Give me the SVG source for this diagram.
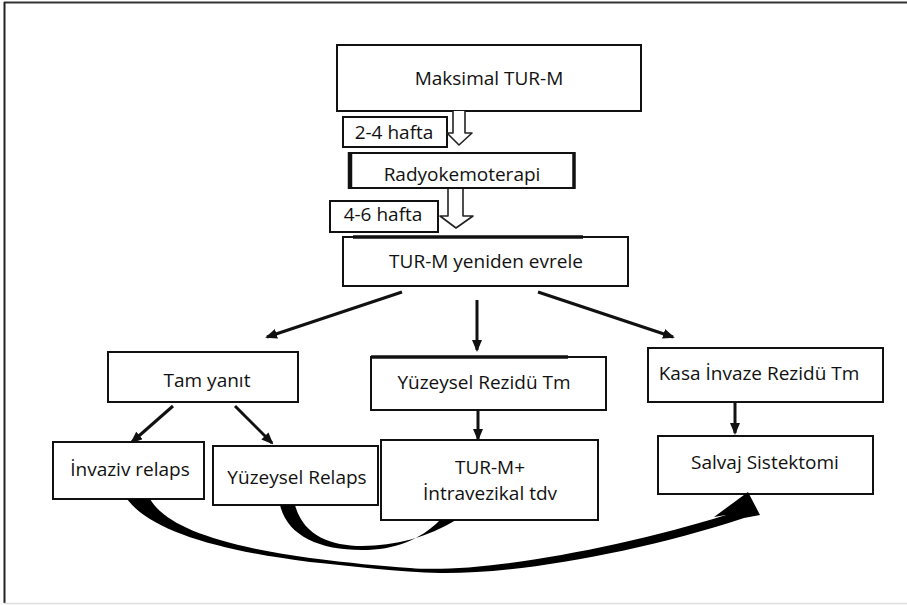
<svg xmlns="http://www.w3.org/2000/svg" width="907" height="605" viewBox="0 0 907 605">
<defs>
<style>
.box{fill:#fff;stroke:#111;stroke-width:2}
.t{font-family:"Open Sans","Noto Sans","Liberation Sans",sans-serif;font-size:19px;fill:#111;text-anchor:middle}
.ln{stroke:#111;stroke-width:3;fill:none}
.hollow{fill:#fff;stroke:#222;stroke-width:1.6;stroke-linejoin:round}
.band{fill:#000}
</style>
<marker id="ah" viewBox="0 0 12 10" refX="10" refY="5" markerWidth="12" markerHeight="10" markerUnits="userSpaceOnUse" orient="auto">
<path d="M0,0 L12,5 L0,10 z" fill="#111"/>
</marker>
</defs>
<rect width="907" height="605" fill="#fff"/>
<g id="frame">
<line x1="4" y1="2.5" x2="907" y2="2.5" stroke="#333" stroke-width="2"/>
<line x1="4.5" y1="2" x2="4.5" y2="603" stroke="#222" stroke-width="2"/>
<line x1="4" y1="603.5" x2="907" y2="603.5" stroke="#ddd" stroke-width="1.5"/>
</g>
<g id="n1"><rect class="box" x="337" y="45" width="304" height="66"/><text class="t" x="489" y="85">Maksimal TUR-M</text></g>
<g id="l1"><rect class="box" x="343" y="117" width="104" height="30"/><text class="t" x="394" y="139">2-4 hafta</text></g>
<g id="n2"><rect class="box" x="349" y="153" width="225" height="35"/><line x1="350" y1="152" x2="350" y2="189" stroke="#111" stroke-width="4.5"/><line x1="574" y1="152" x2="574" y2="189" stroke="#111" stroke-width="3.5"/><text class="t" x="462" y="181">Radyokemoterapi</text></g>
<g id="l2"><rect class="box" x="330" y="201" width="108" height="31"/><text class="t" x="383" y="221">4-6 hafta</text></g>
<g id="n3"><rect class="box" x="343" y="237" width="285" height="49"/><line x1="353" y1="237" x2="583" y2="237" stroke="#111" stroke-width="3.5"/><text class="t" x="486" y="268">TUR-M yeniden evrele</text></g>
<g id="n4"><rect class="box" x="108" y="352" width="190" height="50"/><text class="t" x="207" y="387">Tam yanıt</text></g>
<g id="n5"><rect class="box" x="371" y="357" width="235" height="53"/><line x1="371" y1="357" x2="568" y2="357" stroke="#111" stroke-width="3.5"/><text class="t" x="484" y="389">Yüzeysel Rezidü Tm</text></g>
<g id="n6"><rect class="box" x="648" y="348" width="235" height="54"/><text class="t" x="759" y="380">Kasa İnvaze Rezidü Tm</text></g>
<g id="n7"><rect class="box" x="53" y="442" width="151" height="57"/><text class="t" x="130" y="476">İnvaziv relaps</text></g>
<g id="n8"><rect class="box" x="213" y="446" width="165" height="59"/><text class="t" x="297" y="484">Yüzeysel Relaps</text></g>
<g id="n9"><rect class="box" x="381" y="440" width="217" height="80"/><text class="t" x="490" y="474">TUR-M+</text><text class="t" x="490" y="500">İntravezikal tdv</text></g>
<g id="n10"><rect class="box" x="658" y="436" width="215" height="58"/><text class="t" x="765" y="469">Salvaj Sistektomi</text></g>
<g id="connectors">
<path class="hollow" d="M453,111 L453,133 L447,133 L459,145 L472,133 L465,133 L465,111"/>
<path class="hollow" d="M448,189 L448,216 L440,216 L456,228 L473,216 L463,216 L463,189"/>
<line class="ln" x1="402" y1="292" x2="267" y2="337" marker-end="url(#ah)"/>
<line class="ln" x1="477" y1="300" x2="477" y2="350" marker-end="url(#ah)"/>
<line class="ln" x1="538" y1="292" x2="673" y2="337" marker-end="url(#ah)"/>
<line class="ln" x1="173" y1="406" x2="132" y2="442" marker-end="url(#ah)"/>
<line class="ln" x1="235" y1="406" x2="272" y2="443" marker-end="url(#ah)"/>
<line class="ln" x1="478" y1="410" x2="478" y2="439" marker-end="url(#ah)"/>
<line class="ln" x1="735" y1="402" x2="735" y2="433" marker-end="url(#ah)"/>
<path class="band" d="M150,499 C165,525 215,545 310,558 C350,563 380,566 410,568 C480,574 620,548 726,515 L714,517 L748,492 L760,515 L744,518 C640,552 520,574 440,573 C400,572 350,566 310,562 C215,550 150,530 127,499 Z"/>
<path class="band" d="M295,505 C303,535 330,546 362,546 C395,546 428,537 456,520 L440,520 C420,540 395,550 362,550 C318,550 287,535 280,505 Z"/>
</g>
</svg>
